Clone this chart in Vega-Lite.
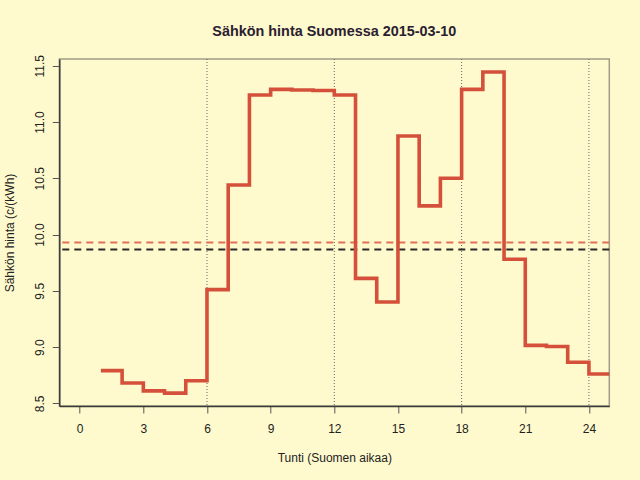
{
  "$schema": "https://vega.github.io/schema/vega-lite/v6.json",
  "width": 550,
  "height": 347,
  "autosize": {"type": "none"},
  "padding": {"left": 59.3, "top": 59, "right": 30.7, "bottom": 74},
  "background": "#FFFACD",
  "config": {
    "font": "Liberation Sans",
    "view": {"stroke": "#a09c88", "strokeWidth": 1.5},
    "axis": {
      "grid": false,
      "domainColor": "#3a3a3a",
      "domainWidth": 1.5,
      "tickColor": "#555555",
      "tickSize": 7,
      "tickWidth": 1,
      "labelFont": "Liberation Sans",
      "labelFontSize": 12,
      "labelColor": "#222222",
      "titleFont": "Liberation Sans",
      "titleFontSize": 12,
      "titleFontWeight": "normal",
      "titleColor": "#222222"
    }
  },
  "title": {
    "text": "Sähkön hinta Suomessa 2015-03-10",
    "font": "Liberation Sans",
    "fontSize": 14.4,
    "fontWeight": "bold",
    "color": "#2a2030",
    "anchor": "middle",
    "frame": "group",
    "offset": 15
  },
  "data": {
    "values": [
      {"tunti": 1, "hinta": 8.79},
      {"tunti": 2, "hinta": 8.68},
      {"tunti": 3, "hinta": 8.61},
      {"tunti": 4, "hinta": 8.59},
      {"tunti": 5, "hinta": 8.70},
      {"tunti": 6, "hinta": 9.51},
      {"tunti": 7, "hinta": 10.44},
      {"tunti": 8, "hinta": 11.24},
      {"tunti": 9, "hinta": 11.29},
      {"tunti": 10, "hinta": 11.285},
      {"tunti": 11, "hinta": 11.28},
      {"tunti": 12, "hinta": 11.24},
      {"tunti": 13, "hinta": 9.61},
      {"tunti": 14, "hinta": 9.40},
      {"tunti": 15, "hinta": 10.875},
      {"tunti": 16, "hinta": 10.255},
      {"tunti": 17, "hinta": 10.50},
      {"tunti": 18, "hinta": 11.29},
      {"tunti": 19, "hinta": 11.445},
      {"tunti": 20, "hinta": 9.78},
      {"tunti": 21, "hinta": 9.015},
      {"tunti": 22, "hinta": 9.005},
      {"tunti": 23, "hinta": 8.865},
      {"tunti": 24, "hinta": 8.76},
      {"tunti": 25, "hinta": 8.76}
    ]
  },
  "layer": [
    {
      "data": {"values": [{"tunti": 6}, {"tunti": 12}, {"tunti": 18}, {"tunti": 24}]},
      "mark": {"type": "rule", "color": "#666666", "strokeWidth": 1, "strokeDash": [1, 2]},
      "encoding": {
        "x": {"field": "tunti", "type": "quantitative", "scale": {"domain": [-0.96, 24.96], "nice": false, "zero": false}}
      }
    },
    {
      "data": {"values": [{"hinta": 9.93}]},
      "mark": {"type": "rule", "color": "#E0705A", "strokeWidth": 2, "strokeDash": [7, 5]},
      "encoding": {
        "y": {"field": "hinta", "type": "quantitative"}
      }
    },
    {
      "data": {"values": [{"hinta": 9.868}]},
      "mark": {"type": "rule", "color": "#2a2a2a", "strokeWidth": 2, "strokeDash": [7, 5]},
      "encoding": {
        "y": {"field": "hinta", "type": "quantitative"}
      }
    },
    {
      "mark": {"type": "line", "interpolate": "step-after", "color": "#D4503A", "strokeWidth": 3.6, "clip": true, "strokeCap": "butt"},
      "encoding": {
        "x": {
          "field": "tunti",
          "type": "quantitative",
          "scale": {"domain": [-0.96, 24.96], "nice": false, "zero": false},
          "axis": {
            "values": [0, 3, 6, 9, 12, 15, 18, 21, 24],
            "title": "Tunti (Suomen aikaa)",
            "labelBaseline": "alphabetic",
            "labelPadding": 19,
            "titleBaseline": "alphabetic",
            "titleY": 55
          }
        },
        "y": {
          "field": "hinta",
          "type": "quantitative",
          "scale": {"domain": [8.476, 11.56], "nice": false, "zero": false},
          "axis": {
            "values": [8.5, 9, 9.5, 10, 10.5, 11, 11.5],
            "format": ".1f",
            "title": "Sähkön hinta (c/(kWh)",
            "labelAngle": -90,
            "labelAlign": "center",
            "labelBaseline": "alphabetic",
            "labelPadding": 9,
            "titleBaseline": "alphabetic",
            "titleX": -46
          }
        }
      }
    }
  ]
}
